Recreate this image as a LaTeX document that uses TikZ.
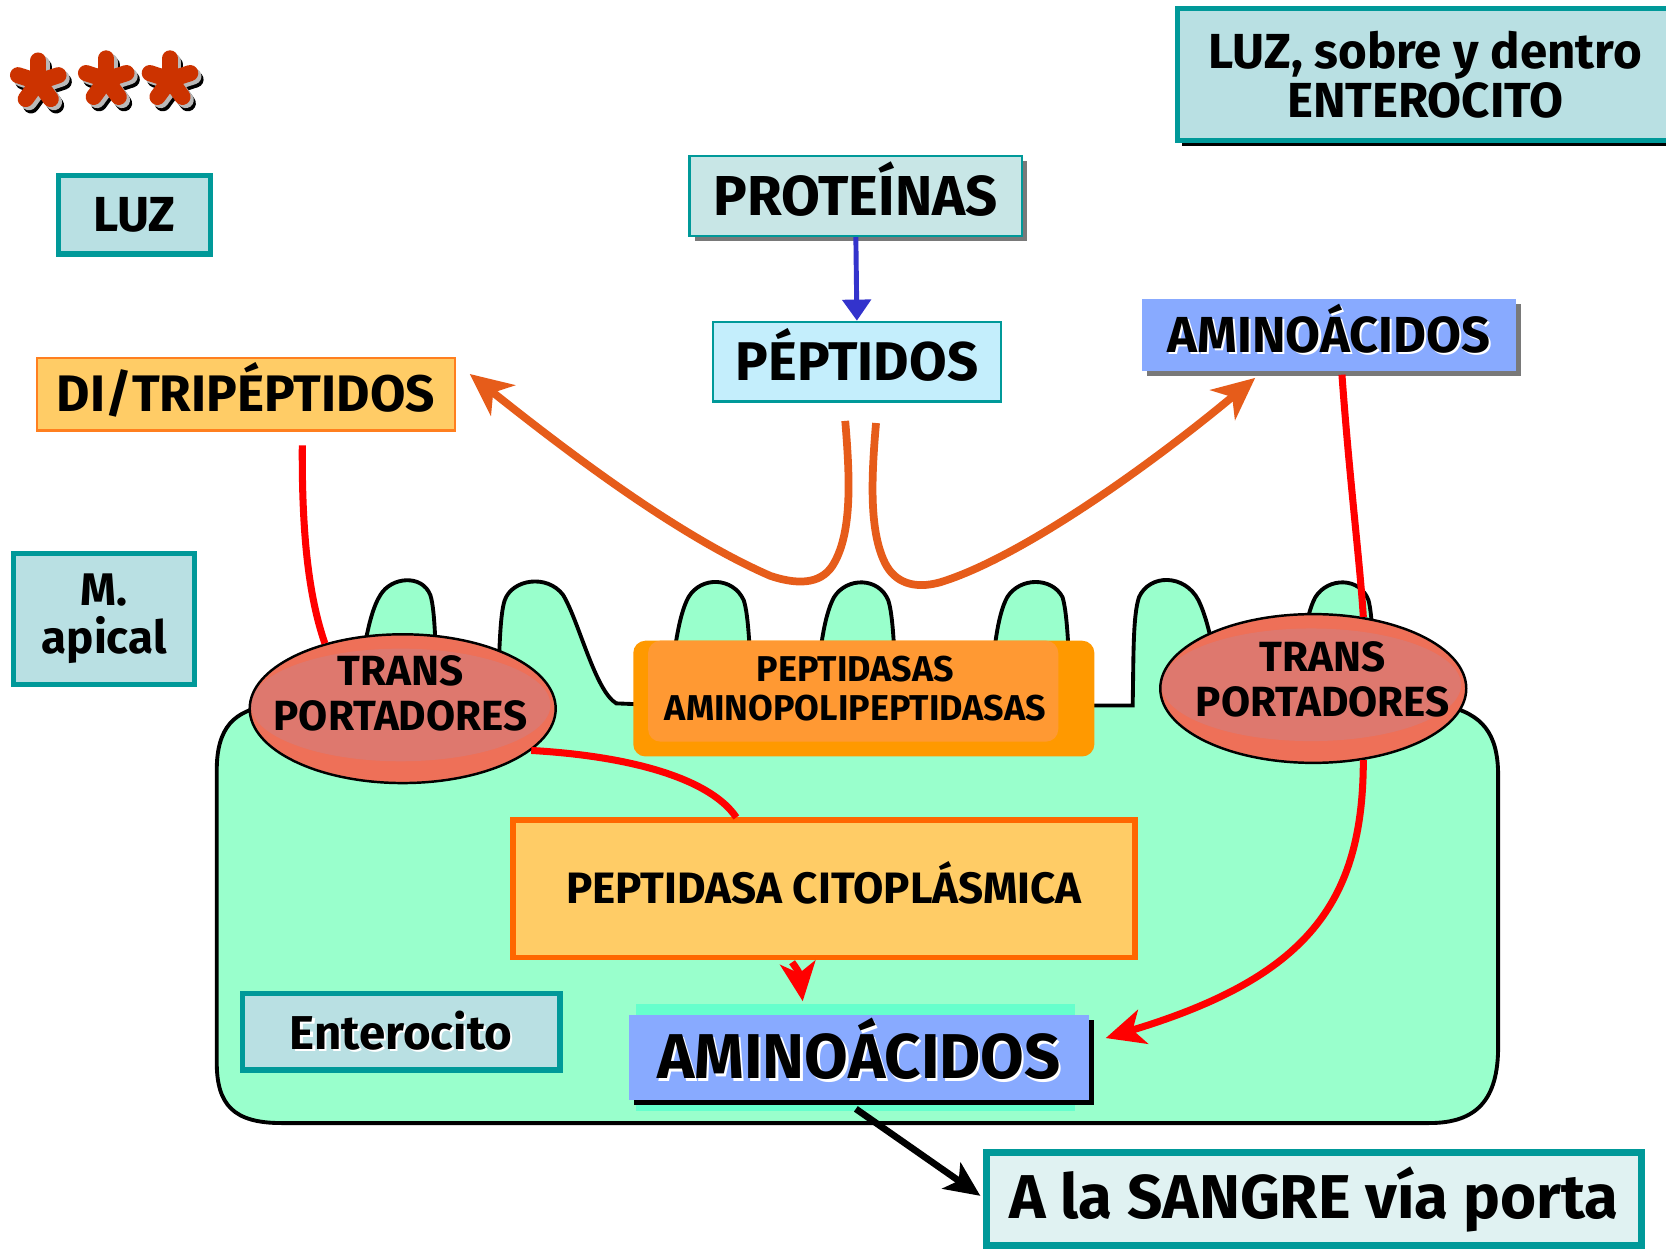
\documentclass[tikz,border=0pt]{standalone}
\usepackage{fontspec}
\setmainfont{Fira Sans}
\usetikzlibrary{arrows.meta,calc,shapes.geometric,shadows}

\definecolor{tealline}{HTML}{009999}
\definecolor{palecyan}{HTML}{B9E0E3}
\definecolor{protfill}{HTML}{C8E6E6}
\definecolor{peptfill}{HTML}{C4EEFC}
\definecolor{aminofill}{HTML}{88AAFF}
\definecolor{aquaback}{HTML}{66FFCC}
\definecolor{cellgreen}{HTML}{99FFCC}
\definecolor{yellowbox}{HTML}{FFCC66}
\definecolor{orangeline}{HTML}{FF7F1F}
\definecolor{citoline}{HTML}{FF6600}
\definecolor{enzrim}{HTML}{FF9900}
\definecolor{enzfill}{HTML}{FF9933}
\definecolor{rimred}{HTML}{EE7058}
\definecolor{innerred}{HTML}{DE786E}
\definecolor{sangrefill}{HTML}{E0F2F2}
\definecolor{arroworange}{HTML}{E65C1A}
\definecolor{arrowblue}{HTML}{3333CC}
\definecolor{starred}{HTML}{CC3300}

% one drawing unit in lengths
\newcommand\pxu{0.010625cm}
% black lettering with a thin white edge
\newcommand\whiteedge[1]{\makebox[0pt][l]{\hspace{0.6pt}\raisebox{-0.6pt}{\color{white}#1}}#1}

\begin{document}
\begin{tikzpicture}[x=0.010625cm,y=-0.010625cm,
  fs/.style={font=\bfseries\fontsize{#1}{#1}\selectfont},
  caps/.style={text height=#1, text depth=0pt},
  tealbox/.style={draw=tealline, line width=1.5pt, fill=palecyan, inner sep=0pt, align=center},
  thinteal/.style={draw=tealline, line width=0.7pt, inner sep=0pt, align=center},
  greyshadow/.style={drop shadow={shadow xshift=1.5pt,shadow yshift=-1.5pt,fill=gray!95!black,opacity=1}},
  blackshadow/.style={drop shadow={shadow xshift=1.4pt,shadow yshift=-1.6pt,fill=black,opacity=1}},
  redline/.style={draw=red, line width=2pt},
  orangearrow/.style={draw=arroworange, line width=2.2pt, -{Stealth[length=12pt,width=11pt,inset=3.5pt]}},
  redtip/.style={-{Stealth[length=11pt,width=10pt,inset=3pt]}},
  cellline/.style={draw=black, line width=1.1pt, fill=cellgreen},
  txt/.style={inner sep=0pt, align=center}
]
\fill[white] (0,0) rectangle (1568,1176);
\useasboundingbox (0,0) rectangle (1568,1176);

% three asterisk marks with stacked shadows
\foreach \col/\dx/\dy in {black/5/6, gray!55/3/3, starred/0/0} {
  \foreach \cx/\cy in {36/77, 100/75, 160/75} {
    \foreach \a in {270,342,54,126,198}
      \draw[\col, line width=4.6pt, line cap=round] (\cx+\dx,\cy+\dy) -- ++(\a:20);
  }
}

% enterocyte body with microvilli
\draw[cellline] (204,1000)
 -- (204,725)
 .. controls (204,685) and (220,668) .. (255,664)
 -- (335,664)
 .. controls (340,630) and (345,580) .. (358,560)
 .. controls (368,543) and (397,540) .. (405,560)
 .. controls (410,575) and (410,620) .. (412,664)
 -- (468,664)
 .. controls (470,620) and (470,580) .. (475,565)
 .. controls (482,545) and (515,540) .. (530,560)
 .. controls (545,585) and (560,650) .. (580,662)
 -- (630,664)
 .. controls (633,620) and (638,580) .. (648,562)
 .. controls (660,542) and (690,543) .. (700,565)
 .. controls (705,580) and (706,620) .. (708,664)
 -- (768,664)
 .. controls (770,620) and (775,580) .. (785,562)
 .. controls (797,543) and (827,543) .. (836,565)
 .. controls (841,580) and (842,620) .. (844,664)
 -- (932,664)
 .. controls (934,620) and (938,580) .. (948,562)
 .. controls (960,543) and (990,543) .. (1000,562)
 .. controls (1005,578) and (1006,620) .. (1008,664)
 -- (1066,664)
 .. controls (1067,620) and (1066,580) .. (1072,562)
 .. controls (1082,540) and (1115,540) .. (1128,565)
 .. controls (1140,590) and (1145,630) .. (1150,664)
 -- (1222,664)
 .. controls (1224,620) and (1228,580) .. (1238,562)
 .. controls (1250,543) and (1280,543) .. (1288,565)
 .. controls (1292,580) and (1293,620) .. (1295,664)
 -- (1360,664)
 .. controls (1395,672) and (1410,690) .. (1410,730)
 -- (1410,985)
 .. controls (1410,1035) and (1390,1057) .. (1345,1057)
 -- (265,1057)
 .. controls (220,1057) and (204,1040) .. (204,1000)
 -- cycle;

% brush-border enzymes
\node[fill=enzrim, rounded corners=3.5pt, inner sep=0pt,
      minimum width=434*\pxu, minimum height=109*\pxu,
      path picture={\fill[enzfill] ($(path picture bounding box.north west)+(14,0)$) rectangle ($(path picture bounding box.south east)+(-34,-14)$);}]
      (enz) at (813,657.5) {};
\node[txt, font=\bfseries\fontsize{10.2}{11}\selectfont] (enztxt) at (805,648) {PEPTIDASAS\\AMINOPOLIPEPTIDASAS};

% membrane carriers
\foreach \nm/\cx/\cy/\tx/\ty in {ellL/379/667/377/653, ellR/1236/648/1245/639} {
  \node[ellipse, draw=black, line width=0.7pt, fill=rimred, inner sep=0pt,
        minimum width=288*\pxu, minimum height=140*\pxu,
        path picture={\fill[innerred] ($(path picture bounding box.center)+(-2,-3.5)$) ellipse [x radius=141, y radius=53];}]
        (\nm) at (\cx,\cy) {};
  \node[txt, font=\bfseries\fontsize{12}{12.8}\selectfont] (\nm txt) at (\tx,\ty) {TRANS\\PORTADORES};
}

% labels and boxes
\node[tealbox, blackshadow, minimum width=467*\pxu, minimum height=124*\pxu,
      font=\bfseries\fontsize{14}{14}\selectfont] (luzent) at (1341.5,70) {LUZ, sobre y dentro\\ENTEROCITO};
\node[tealbox, minimum width=143*\pxu, minimum height=74*\pxu, fs=14, caps=9.6pt] (luz) at (126.5,202) {LUZ};
\node[tealbox, minimum width=170*\pxu, minimum height=123*\pxu,
      font=\bfseries\fontsize{13}{13.5}\selectfont] (mapical) at (98,582.5) {M.\\apical};
\node[thinteal, greyshadow, fill=protfill, minimum width=313*\pxu, minimum height=75*\pxu, fs=16, caps=11pt] (prot) at (805.5,184.5) {PROTEÍNAS};
\node[thinteal, fill=peptfill, minimum width=271*\pxu, minimum height=75*\pxu, fs=15.5, caps=10.7pt] (pept) at (806.5,340.5) {PÉPTIDOS};
\node[greyshadow, fill=aminofill, inner sep=0pt, minimum width=352*\pxu, minimum height=68*\pxu, fs=14.4, caps=9.9pt] (aminoT) at (1251,315) {\whiteedge{AMINOÁCIDOS}};
\node[draw=orangeline, line width=0.7pt, fill=yellowbox, inner sep=0pt, minimum width=393*\pxu, minimum height=68*\pxu, fs=14.6, caps=10pt] (ditri) at (231.5,371) {DI/TRIPÉPTIDOS};
\node[draw=citoline, line width=1.6pt, fill=yellowbox, inner sep=0pt, minimum width=585*\pxu, minimum height=129*\pxu, fs=12.5, caps=8.6pt] (cito) at (775.5,836.5) {PEPTIDASA CITOPLÁSMICA};
\node[tealbox, minimum width=299*\pxu, minimum height=72*\pxu, fs=13.5] (entero) at (377.5,971) {\whiteedge{Enterocito}};
\fill[aquaback] (599,945) rectangle (1012,1046);
\node[blackshadow, fill=aminofill, inner sep=0pt, minimum width=433*\pxu, minimum height=80*\pxu, fs=18, caps=12.4pt] (aminoB) at (808.5,995) {\whiteedge{AMINOÁCIDOS}};
\node[draw=tealline, line width=2pt, fill=sangrefill, inner sep=0pt, minimum width=617*\pxu, minimum height=87*\pxu, fs=17.6] (sangre) at (1236.5,1128.5) {A la SANGRE vía porta};

% free ends of the connectors
\coordinate (splitL) at ($(pept.south)+(-11,17)$);
\coordinate (splitR) at ($(pept.south)+(18,19)$);
\coordinate (toDi) at ($(ditri.east)+(13,-19)$);
\coordinate (toAmT) at ($(aminoT.south west)+(107,6)$);
\coordinate (diFoot) at ($(ditri.south)+(53,13)$);
\coordinate (amTFoot) at ($(aminoT.south)+(12,3)$);

% hydrolysis of the peptides
\draw[orangearrow] (splitL) .. controls (800,450) and (802,500) .. (785,530)
  .. controls (775,548) and (755,552) .. (725,542)
  .. controls (640,505) and (540,430) .. (toDi);
\draw[orangearrow] (splitR) .. controls (820,450) and (818,500) .. (833,530)
  .. controls (842,548) and (860,555) .. (885,548)
  .. controls (960,525) and (1080,440) .. (toAmT);
\draw[draw=arrowblue, line width=1.4pt, -{Triangle[length=6pt,width=8pt]}] (prot.south) -- (pept.north);

% uptake and transport
\draw[redline] (diFoot) .. controls (284,500) and (290,560) .. (ellL.140);
\draw[redline] (ellL.-18) .. controls (600,712) and (670,735) .. ($(cito.north)+(-82.5,0)$);
\draw[redline, redtip] ($(cito.south)+(-30,2)$) .. controls (752,915) .. ($(aminoB.north)+(-53,-12)$);
\draw[redline] (amTFoot) .. controls (1270,450) and (1280,530) .. (ellR.55);
\draw[redline, redtip] (ellR.-55) .. controls (1283,850) and (1230,920) .. ($(aminoB.east)+(15,-18)$);
\draw[draw=black, line width=1.9pt, -{Stealth[length=10pt,width=9pt,inset=2.5pt]}] ($(aminoB.south)+(-3,8)$) -- ($(sangre.west)+(-2,-3)$);
\end{tikzpicture}
\end{document}
